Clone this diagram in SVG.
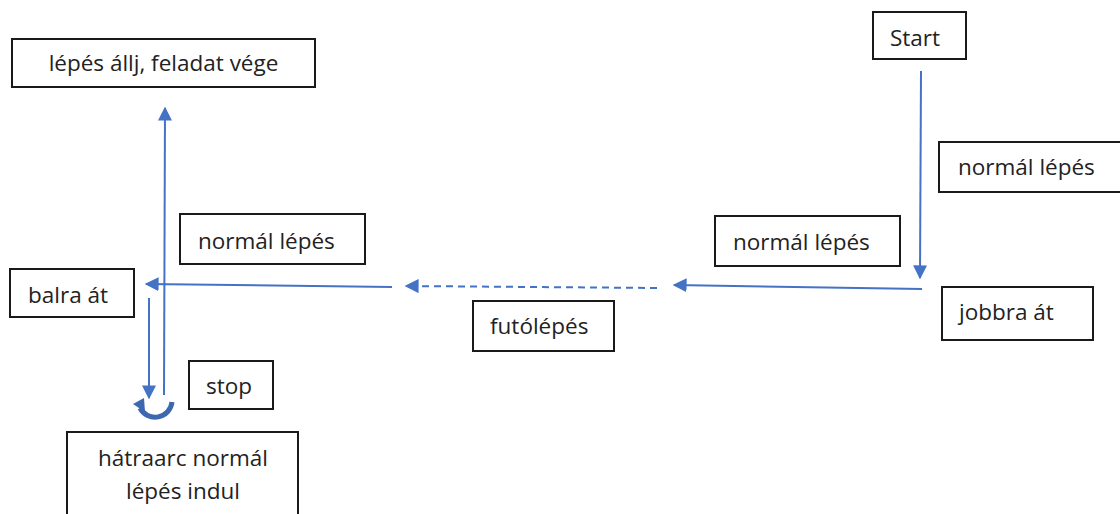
<svg xmlns="http://www.w3.org/2000/svg" width="1120" height="514" viewBox="0 0 1120 514">
<style>
.box{fill:#fff;stroke:#1a1a1a;stroke-width:2}
.t{font-family:"Open Sans","Liberation Sans",sans-serif;font-size:22.5px;fill:#222}
.c{stroke:#4472c4;stroke-width:2;fill:none}
.d{stroke-dasharray:7,5}
</style>
<defs>
<marker id="ah2" viewBox="0 0 10 10" refX="9" refY="5" markerWidth="7" markerHeight="7" orient="auto">
<path d="M0,0 L10,5 L0,10 z" fill="#4472c4"/>
</marker>
</defs>
<rect width="1120" height="514" fill="#fff"/>
<g id="connectors">
<path class="c" d="M921,71 L920,278" marker-end="url(#ah2)"/>
<path class="c" d="M922,289 L674,285" marker-end="url(#ah2)"/>
<path class="c d" d="M657,288 L406,286" marker-end="url(#ah2)"/>
<path class="c" d="M392,287 L146,284" marker-end="url(#ah2)"/>
<path class="c" d="M149,298 L149,398" marker-end="url(#ah2)"/>
<path class="c" d="M164,395 L165,108" marker-end="url(#ah2)"/>
<path d="M172,402 A17,17 0 0 1 140,408" stroke="#3d68b0" stroke-width="5" fill="none"/>
<path d="M133,404 L144,398 L145,412 z" fill="#3d68b0"/>
</g>
<g id="start"><rect class="box" x="873" y="12" width="93" height="47"/><text class="t" x="890" y="46">Start</text></g>
<g id="normal1"><rect class="box" x="939" y="142" width="185" height="50"/><text class="t" x="958" y="175">normál lépés</text></g>
<g id="normal2"><rect class="box" x="715" y="216" width="185" height="50"/><text class="t" x="733" y="250">normál lépés</text></g>
<g id="jobbra"><rect class="box" x="942" y="287" width="151" height="53"/><text class="t" x="959" y="320">jobbra át</text></g>
<g id="futo"><rect class="box" x="473" y="301" width="141" height="50"/><text class="t" x="490" y="334">futólépés</text></g>
<g id="normal3"><rect class="box" x="180" y="214" width="185" height="50"/><text class="t" x="198" y="249">normál lépés</text></g>
<g id="balra"><rect class="box" x="10" y="269" width="124" height="48"/><text class="t" x="28" y="303">balra át</text></g>
<g id="stop"><rect class="box" x="189" y="361" width="84" height="48"/><text class="t" x="206" y="394">stop</text></g>
<g id="vege"><rect class="box" x="12" y="39" width="303" height="48"/><text class="t" x="163.5" y="71" text-anchor="middle">lépés állj, feladat vége</text></g>
<g id="hatraarc"><rect class="box" x="67" y="432" width="231" height="90"/><text class="t" x="183" y="466" text-anchor="middle">hátraarc normál</text><text class="t" x="183" y="499" text-anchor="middle">lépés indul</text></g>
</svg>
